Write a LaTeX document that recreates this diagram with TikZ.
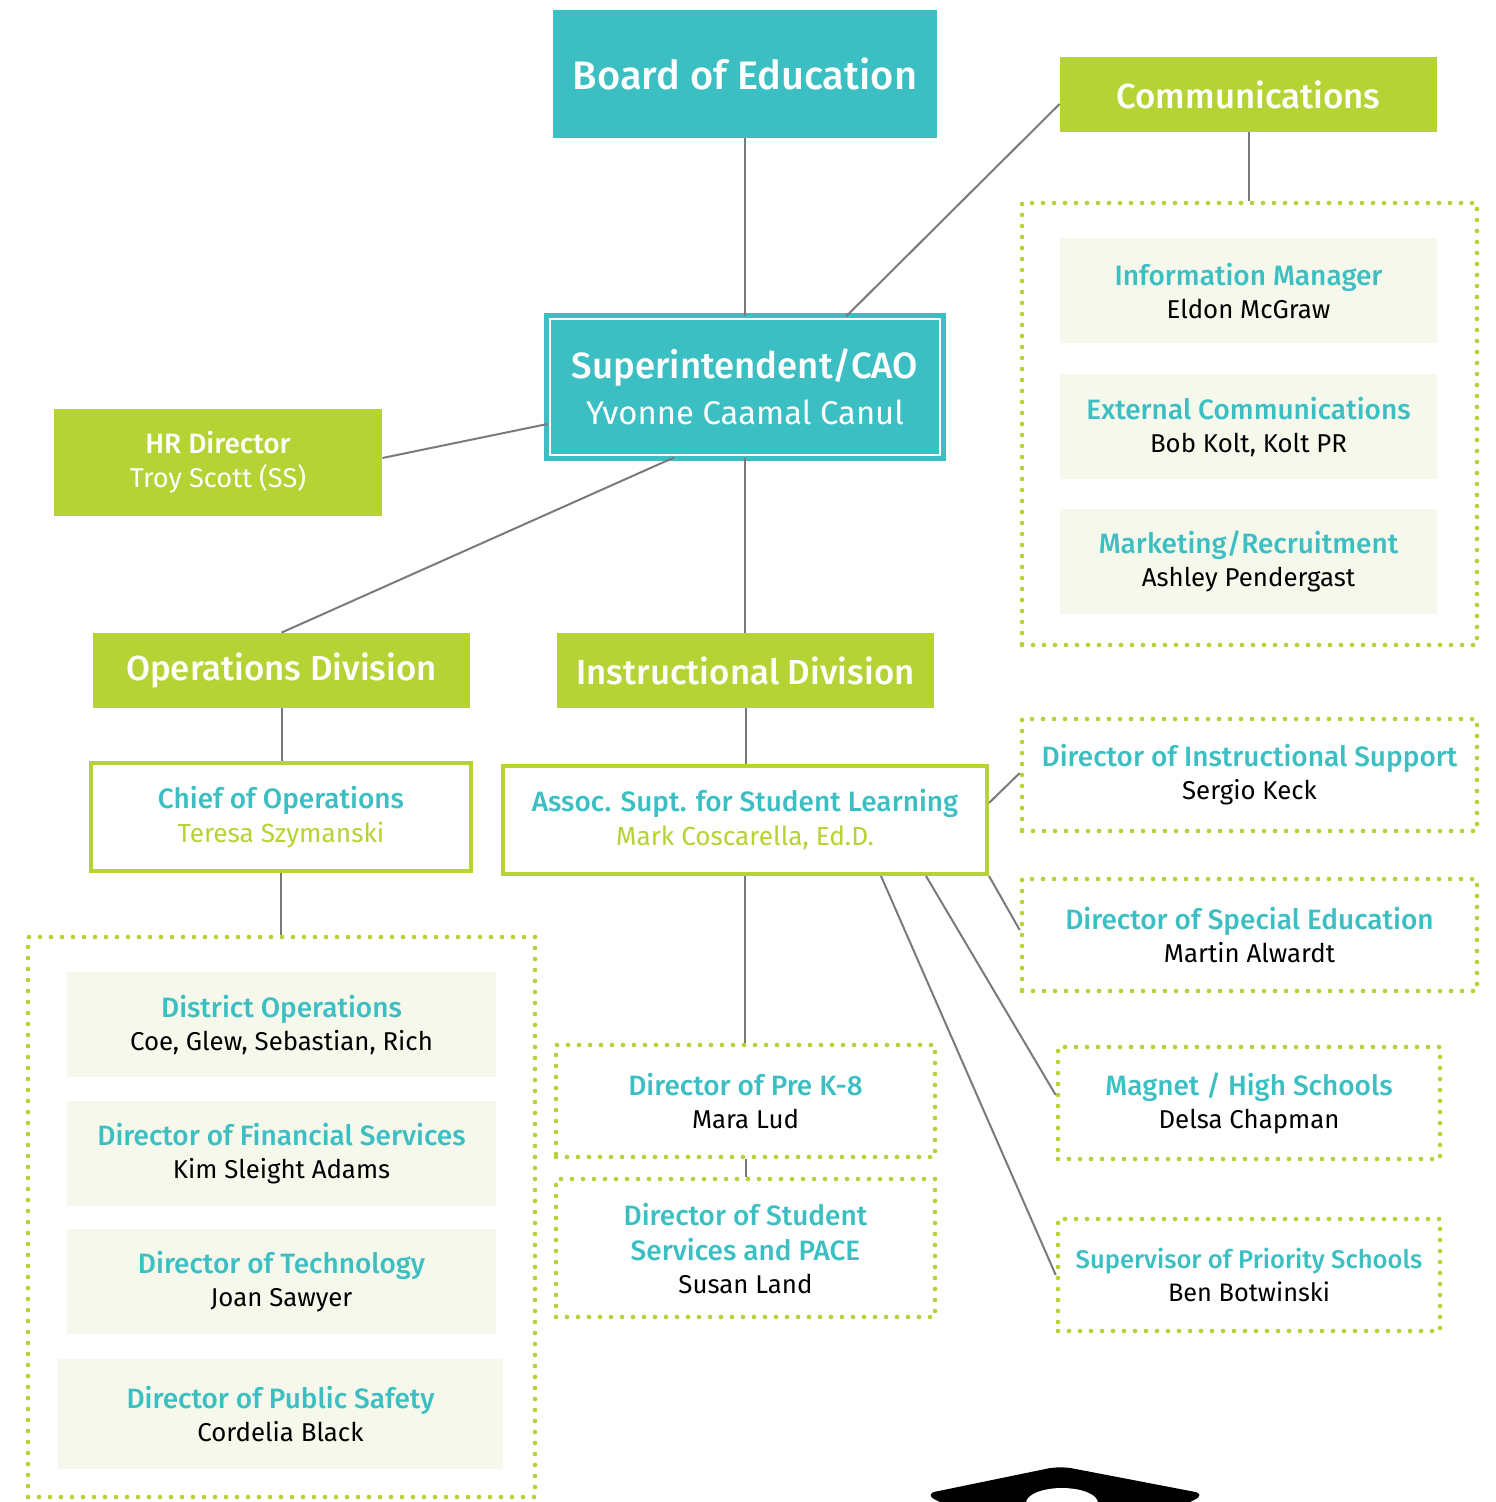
\documentclass[tikz,border=0pt]{standalone}
\usepackage{fontspec}
\setmainfont{Fira Sans}[BoldFont={Fira Sans Medium}]
\usetikzlibrary{calc}
\definecolor{tealc}{HTML}{3CBFC3}
\definecolor{limec}{HTML}{B5D334}
\definecolor{palec}{HTML}{F5F8EA}
\definecolor{linec}{HTML}{7A7A7A}
\newcommand\namefont{\fontsize{12.9}{16.5}\selectfont}
\newcommand\titlefont{\fontsize{14}{16.5}\selectfont\bfseries}
\newcommand\role[2]{{\color{tealc}\titlefont #1}\\{#2}}
\tikzset{
        every node/.style={inner sep=0pt, align=center, font=\namefont},
        topbox/.style={fill=tealc, text=white, font=\fontsize{19.9}{24}\selectfont\bfseries},
        greenbox/.style={fill=limec, text=white, font=\fontsize{17.4}{20}\selectfont\bfseries},
        staff/.style={fill=palec, minimum width=214.5pt, minimum height=52.5pt},
        commstaff/.style={fill=palec, minimum width=188.5pt, minimum height=52.5pt},
        outline/.style={draw=limec, line width=2pt, fill=white, font=\fontsize{13.1}{17}\selectfont},
        dotbox/.style={draw=limec, line width=2.3pt, dash pattern=on 0pt off 5.5pt, line cap=round},
        link/.style={draw=linec, line width=1pt}
          }
\begin{document}
\begin{tikzpicture}[x=0.5pt, y=-0.5pt]
        \useasboundingbox (0,0) rectangle (1495,1502);
        \clip (0,0) rectangle (1495,1502);
        % top of the chart
        \node[topbox, minimum width=192pt, minimum height=64pt] (board) at (745,74) {Board of Education};
        \node[fill=tealc, draw=tealc, double=white, double distance=1pt, line width=2.5pt,
          minimum width=195pt, minimum height=68pt, text=white, font=\fontsize{16.4}{23}\selectfont] (super) at (745,387)
          {{\fontsize{18.3}{23}\selectfont\bfseries Superintendent/CAO}\\Yvonne Caamal Canul};
        \node[greenbox, font=\fontsize{13.6}{17}\selectfont, minimum width=164pt, minimum height=53.5pt] (hr) at (218,462.5)
          {{\fontsize{14}{17}\selectfont\bfseries HR Director}\\Troy Scott (SS)};
        % communications
        \node[greenbox, minimum width=188.5pt, minimum height=37.5pt] (comms) at (1248.5,94.5) {Communications};
        \node[dotbox, minimum width=227.5pt, minimum height=221pt] (commgroup) at (1249.5,424) {};
        \node[commstaff] (infomgr) at (1248.5,290.5) {\role{Information Manager}{Eldon McGraw}};
        \node[commstaff] (extcomm) at (1248.5,426.5) {\role{External Communications}{Bob Kolt, Kolt PR}};
        \node[commstaff] (marketing) at (1248.5,561.5) {\role{Marketing/Recruitment}{Ashley Pendergast}};
        % operations
        \node[greenbox, minimum width=188.5pt, minimum height=37.5pt] (opsdiv) at (281.5,670.5) {Operations Division};
        \node[outline, minimum width=190pt, minimum height=54pt] (chief) at (281,817)
          {{\color{tealc}\titlefont Chief of Operations}\\{\color{limec}Teresa Szymanski}};
        \node[dotbox, minimum width=253.5pt, minimum height=280pt] (opsgroup) at (281.5,1217) {};
        \node[staff] (distops) at (281.5,1024.5) {\role{District Operations}{Coe, Glew, Sebastian, Rich}};
        \node[staff] (finance) at (281.5,1153.5) {\role{Director of Financial Services}{Kim Sleight Adams}};
        \node[staff] (tech) at (281.5,1281.5) {\role{Director of Technology}{Joan Sawyer}};
        \node[staff, minimum width=222.5pt, minimum height=55pt] (safety) at (280.5,1414) {\role{Director of Public Safety}{Cordelia Black}};
        % instruction
        \node[greenbox, minimum width=188.5pt, minimum height=37.5pt] (instdiv) at (745.5,670.5) {Instructional Division};
        \node[outline, minimum width=242pt, minimum height=54pt] (assoc) at (745,820)
          {{\color{tealc}\titlefont Assoc. Supt. for Student Learning}\\{\color{limec}Mark Coscarella, Ed.D.}};
        \node[dotbox, minimum width=227.5pt, minimum height=56pt] (instsupport) at (1249.5,775) {\role{Director of Instructional Support}{Sergio Keck}};
        \node[dotbox, minimum width=227.5pt, minimum height=56pt] (speced) at (1249.5,935) {\role{Director of Special Education}{Martin Alwardt}};
        \node[dotbox, minimum width=189.5pt, minimum height=56pt] (prek) at (745.5,1101) {\role{Director of Pre K-8}{Mara Lud}};
        \node[dotbox, minimum width=189.5pt, minimum height=69pt] (studserv) at (745.5,1248)
          {{\color{tealc}\titlefont Director of Student}\\[1pt]\role{Services and PACE}{Susan Land}};
        \node[dotbox, minimum width=191pt, minimum height=56pt] (magnet) at (1249,1103) {\role{Magnet / High Schools}{Delsa Chapman}};
        \node[dotbox, minimum width=191pt, minimum height=56pt, font=\fontsize{12.65}{16.5}\selectfont] (priority) at (1249,1275)
          {{\color{tealc}\fontsize{12.8}{16.5}\selectfont\bfseries Supervisor of Priority Schools}\\Ben Botwinski};
        % connectors
        \draw[link] (board) -- (super);
        \draw[link] ($(super.north)+(101,0)$) -- ($(comms.west)+(0,9.5)$);
        \draw[link] (comms.south) -- (comms.south |- commgroup.north);
        \draw[link] ($(hr.east)+(0,-4.5)$) -- ($(super.west)+(0,37)$);
        \draw[link] ($(super.south)+(-71,0)$) -- (opsdiv.north);
        \draw[link] (super.south) -- (super.south |- instdiv.north);
        \draw[link] (opsdiv.south) -- (opsdiv.south |- chief.north);
        \draw[link] (chief.south) -- (chief.south |- opsgroup.north);
        \draw[link] (instdiv.south) -- (instdiv.south |- assoc.north);
        \draw[link] (assoc.south) -- (assoc.south |- prek.north);
        \draw[link] (prek.south) -- (prek.south |- studserv.north);
        \draw[link] ($(assoc.east)+(0,-17)$) -- ($(instsupport.west)+(0,-2)$);
        \draw[link] (assoc.south east) -- ($(speced.west)+(0,-5)$);
        \draw[link] ($(assoc.south)+(181,0)$) -- ($(magnet.west)+(0,-8)$);
        \draw[link] ($(assoc.south)+(136,0)$) -- (priority.west);
        % cap at the foot
        \fill[black, rounded corners=6pt] (924,1494) -- (1060,1466) -- (1206,1494) -- (1170,1512) -- (960,1512) -- cycle;
        \fill[white] (1062,1503) ellipse [x radius=36, y radius=15];
      \end{tikzpicture}
\end{document}
